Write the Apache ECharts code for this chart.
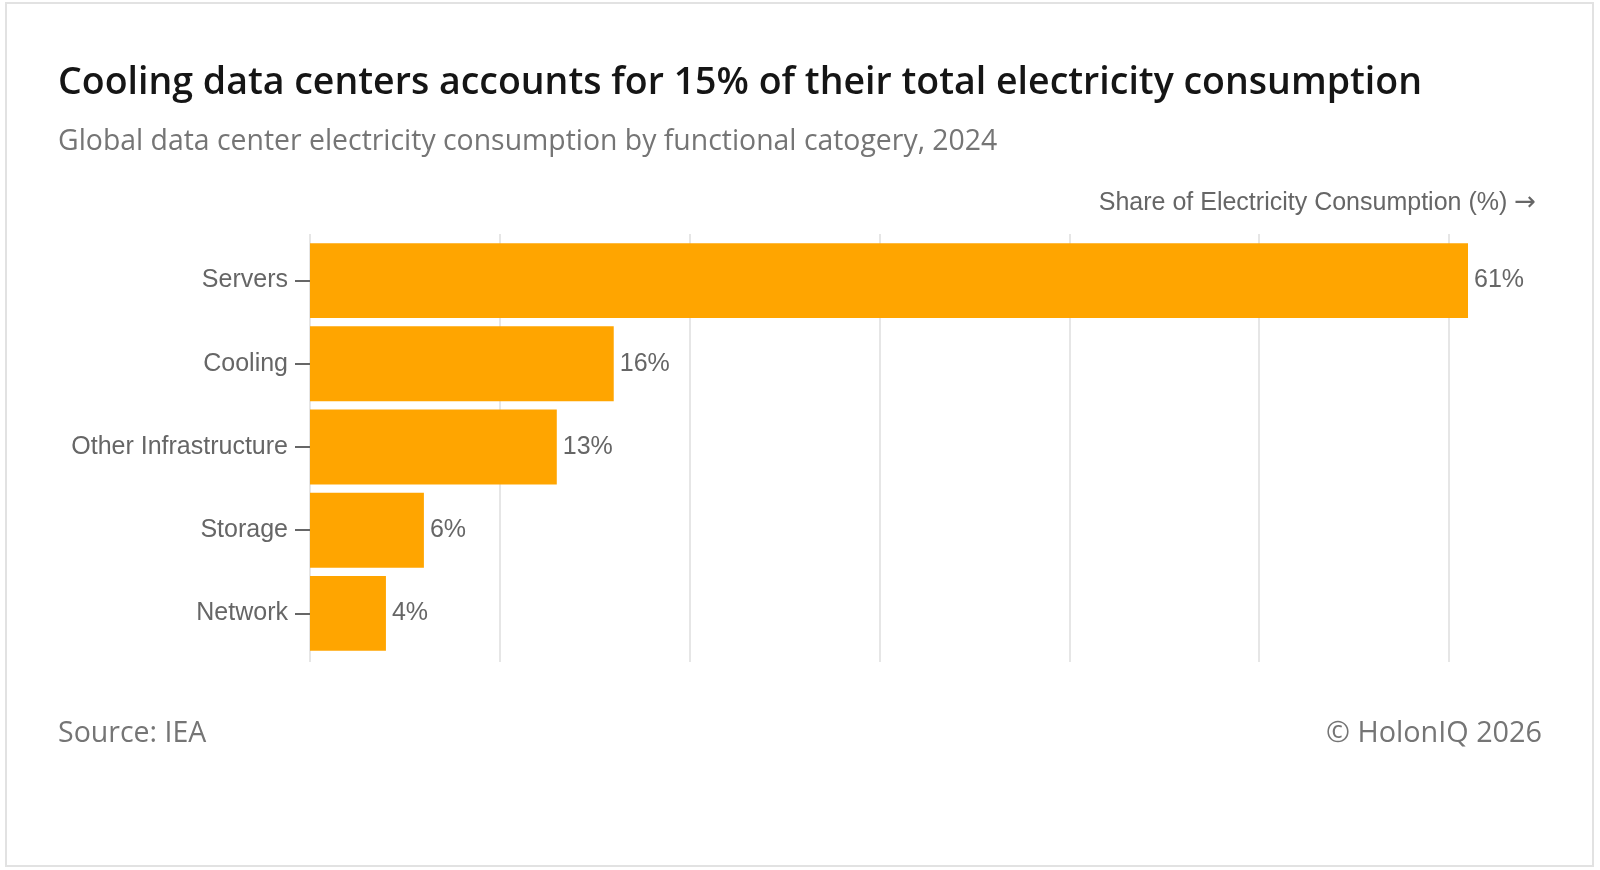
<!DOCTYPE html>
<html>
<head>
<meta charset="utf-8">
<script src="https://cdn.jsdelivr.net/npm/echarts@6/dist/echarts.min.js"></script>
<style>
html,body{margin:0;padding:0;background:#fff;}
#chart{width:1600px;height:870px;}
</style>
</head>
<body>
<div id="chart"></div>
<script>
const categories = ['Servers', 'Cooling', 'Other Infrastructure', 'Storage', 'Network'];
const shareValues = [61, 16, 13, 6, 4];
const axisMax = 61;
const tickInterval = 10;

const titleText = 'Cooling data centers accounts for 15% of their total electricity consumption';
const subtitleText = 'Global data center electricity consumption by functional catogery, 2024';
const axisTitle = 'Share of Electricity Consumption (%)';
const axisArrow = '\u2192';
const sourceText = 'Source: IEA';
const creditText = '\u00A9 HolonIQ 2026';

const chart = echarts.init(document.getElementById('chart'));
const labelFont = '"Liberation Sans", Arial, sans-serif';
const headFont = '"Open Sans", "Noto Sans", sans-serif';

chart.setOption({
  backgroundColor: '#ffffff',
  animation: false,
  graphic: [{
    type: 'rect', silent: true,
    shape: {x: 6, y: 3, width: 1587, height: 863},
    style: {fill: 'none', stroke: '#e2e2e2', lineWidth: 2}
  }],
  title: [
    {text: titleText, left: 58, top: 64, padding: 0,
     textStyle: {fontFamily: headFont, fontSize: 37.5, fontWeight: 600, color: '#151515'}},
    {text: subtitleText, left: 58, top: 128, padding: 0,
     textStyle: {fontFamily: headFont, fontSize: 28.4, fontWeight: 400, color: '#757575'}},
    {text: sourceText, left: 58, top: 719, padding: 0,
     textStyle: {fontFamily: headFont, fontSize: 28.5, fontWeight: 400, color: '#757575'}},
    {text: creditText, right: 58, top: 719, padding: 0,
     textStyle: {fontFamily: headFont, fontSize: 28.8, fontWeight: 400, color: '#757575'}}
  ],
  grid: [
    {left: 310, right: 132, top: 239, bottom: 215, containLabel: false},
    {left: 310, right: 132, top: 234, bottom: 208, containLabel: false}
  ],
  xAxis: [
    {type: 'value', gridIndex: 0, min: 0, max: axisMax, interval: tickInterval,
     axisLine: {show: false}, axisTick: {show: false}, axisLabel: {show: false},
     splitLine: {show: false}},
    {type: 'value', gridIndex: 1, position: 'top', min: 0, max: axisMax, interval: tickInterval,
     axisLine: {show: false, onZero: false}, axisTick: {show: false}, axisLabel: {show: false},
     splitLine: {show: true, showMaxLine: false, lineStyle: {color: '#e6e6e6', width: 2}},
     name: axisTitle + ' {arr|' + axisArrow + '}', nameLocation: 'end', nameGap: 68,
     nameTextStyle: {fontFamily: labelFont, fontSize: 25, color: '#666666',
       align: 'right', verticalAlign: 'middle', padding: [0, 0, 62, 0],
       rich: {arr: {fontFamily: '"DejaVu Sans", sans-serif', fontSize: 26, color: '#666666'}}}}
  ],
  yAxis: [
    {type: 'category', gridIndex: 0, data: categories, inverse: true,
     axisLine: {show: false},
     axisTick: {show: true, alignWithLabel: true, length: 15, lineStyle: {color: '#666666', width: 2}},
     axisLabel: {margin: 22, fontFamily: labelFont, fontSize: 25, color: '#666666',
       backgroundColor: 'rgba(255,255,255,0)', padding: [6, 0, 0, 0]}},
    {type: 'value', gridIndex: 1, show: false, min: 0, max: 1}
  ],
  series: [{
    type: 'bar', xAxisIndex: 0, yAxisIndex: 0,
    data: shareValues, barCategoryGap: '10%',
    itemStyle: {color: '#FFA500'},
    label: {show: true, position: 'right', distance: 6, formatter: '{c}%',
      fontFamily: labelFont, fontSize: 25, color: '#666666',
      backgroundColor: 'rgba(255,255,255,0)', padding: [6, 0, 0, 0]}
  }]
});
</script>
</body>
</html>
